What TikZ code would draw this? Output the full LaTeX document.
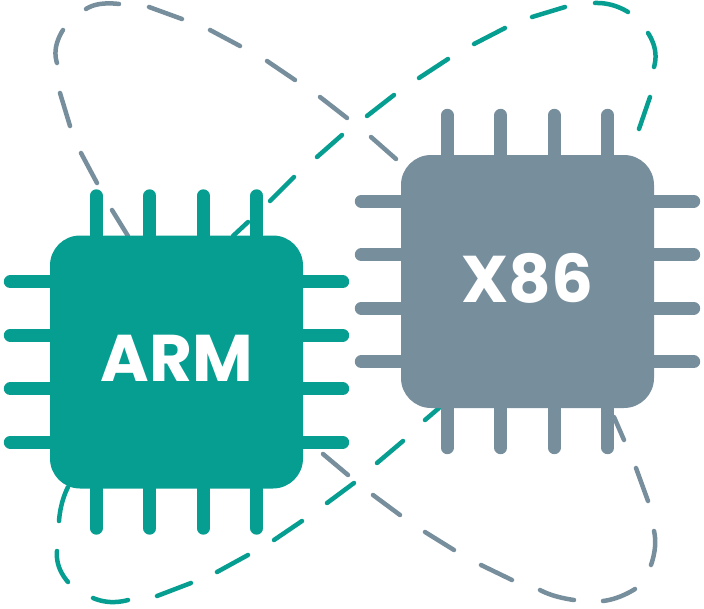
\documentclass[tikz,border=0pt]{standalone}
\usepackage{fontspec}
\setmainfont{Poppins}
\definecolor{armteal}{HTML}{079E92}
\definecolor{x86gray}{HTML}{778E9D}
\tikzset{
  chip/.style={rectangle, rounded corners=30pt, minimum size=253pt, inner sep=0pt, text=white, text depth=8pt,
    font=\fontsize{66}{66}\selectfont\bfseries},
  pin/.style={line width=13pt, line cap=round},
  gap/.style={line width=4.5pt, line cap=round, smooth, tension=1}
}
\begin{document}
\begin{tikzpicture}[x=1pt, y=-1pt]
    \useasboundingbox (0, 0) rectangle (704, 608);

    % Upper left loop
    \foreach \ax/\ay/\bx/\by in {128/236/112/210, 97/183/81/153, 60/93/70/126, 149/7/182/19, 210/30/240/46, 267/61/295/80, 320/97/347/118, 371/137/396/159}
      \draw[gap, x86gray] (\ax, \ay) -- (\bx, \by);
    \draw[gap, x86gray] plot[smooth, tension=1] coordinates {(57,63) (56,47) (63,30)};
    \draw[gap, x86gray] plot[smooth, tension=1] coordinates {(86,9) (100,4) (119,4)};

    % Upper right loop
    \foreach \ax/\ay/\bx/\by in {233/236/248/222, 270/201/294/177, 317/157/342/135, 367/116/394/95, 419/78/448/59, 474/44/505/28, 532/17/565/7, 650/97/639/129}
      \draw[gap, armteal] (\ax, \ay) -- (\bx, \by);
    \draw[gap, armteal] plot[smooth, tension=1] coordinates {(595,3) (612,5) (628,12)};
    \draw[gap, armteal] plot[smooth, tension=1] coordinates {(648,33) (655,50) (654,67)};

    % Lower left loop
    \foreach \ax/\ay/\bx/\by in {157/596/191/583, 217/572/248/555, 274/540/302/521, 327/503/354/483, 377/463/403/441, 425/420/439/408}
      \draw[gap, armteal] (\ax, \ay) -- (\bx, \by);
    \draw[gap, armteal] plot[smooth, tension=1] coordinates {(68,487) (62,503) (59,521)};
    \draw[gap, armteal] plot[smooth, tension=1] coordinates {(57,551) (59,567) (68,582)};
    \draw[gap, armteal] plot[smooth, tension=1] coordinates {(93,598) (110,602) (128,600)};

    % Lower right loop
    \foreach \ax/\ay/\bx/\by in {323/454/348/475, 373/495/400/515, 425/532/454/550, 481/565/512/580, 648/501/636/468, 624/440/614/417}
      \draw[gap, x86gray] (\ax, \ay) -- (\bx, \by);
    \draw[gap, x86gray] plot[smooth, tension=1] coordinates {(540,590) (555,596) (574,600)};
    \draw[gap, x86gray] plot[smooth, tension=1] coordinates {(603,601) (619,597) (635,589)};
    \draw[gap, x86gray] plot[smooth, tension=1] coordinates {(651,565) (655,547) (654,531)};

    % Chips
    \node[chip, fill=armteal] (arm) at (176.5, 362) {ARM};
    \node[chip, fill=x86gray] (x86) at (527.5, 281.5) {X86};

    % Pins
    \foreach \chipname/\chipcolor in {arm/armteal, x86/x86gray}
      \foreach \off in {-80.25, -26.75, 26.75, 80.25} {
        \draw[pin, \chipcolor] ([xshift=\off pt]\chipname.north) -- ++(0, -39.5);
        \draw[pin, \chipcolor] ([xshift=\off pt]\chipname.south) -- ++(0, 39.5);
        \draw[pin, \chipcolor] ([yshift=\off pt]\chipname.west) -- ++(-39.5, 0);
        \draw[pin, \chipcolor] ([yshift=\off pt]\chipname.east) -- ++(39.5, 0);
      }
  \end{tikzpicture}
\end{document}
